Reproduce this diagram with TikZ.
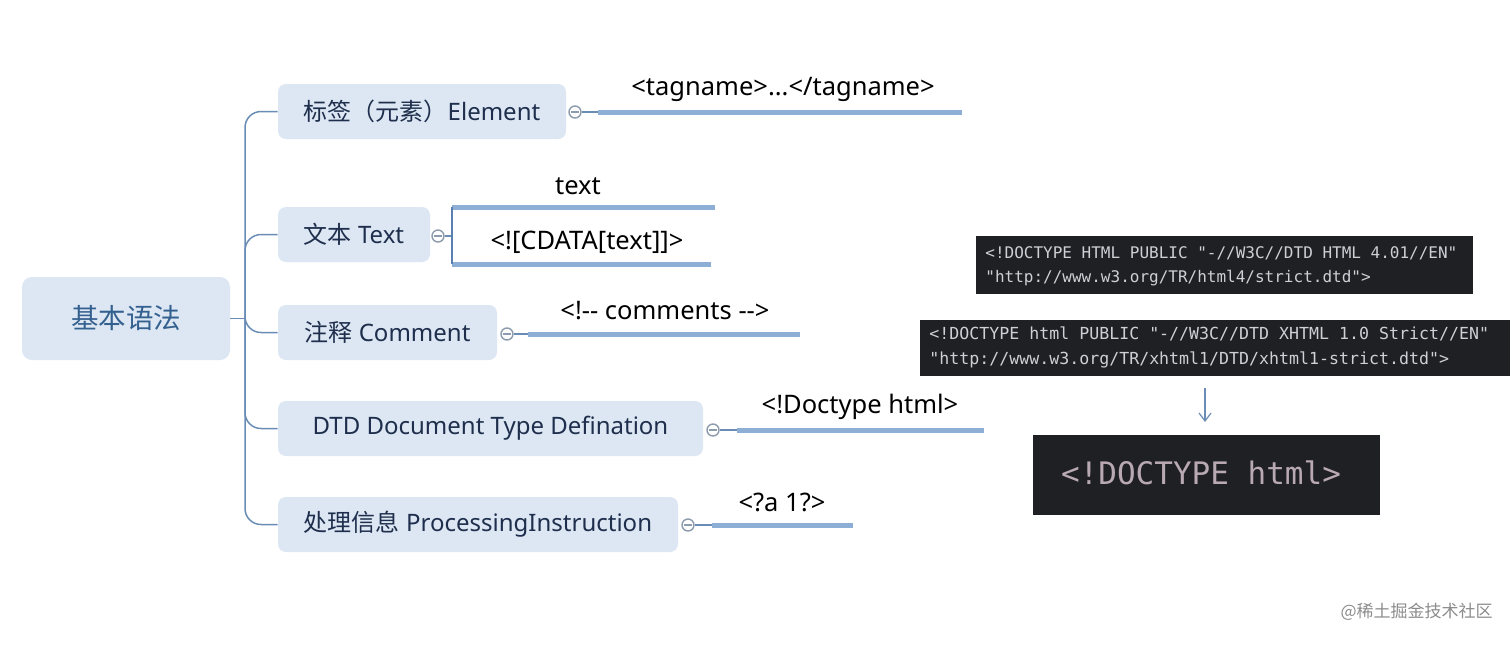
\documentclass[tikz,border=0pt]{standalone}
\usepackage{fontspec}
\setmainfont{Noto Sans}[Ligatures=TeXOff]
\newfontfamily\cjk{Noto Sans CJK SC}[Ligatures=TeXOff]
\newfontfamily\monof{DejaVu Sans Mono}[Ligatures=TeXOff]
\usetikzlibrary{arrows.meta}
\definecolor{boxfill}{HTML}{DCE7F3}
\definecolor{roottext}{HTML}{34608F}
\definecolor{childtext}{HTML}{1E2E4C}
\definecolor{connc}{HTML}{6A8DB6}
\definecolor{thickc}{HTML}{8EAFD5}
\definecolor{brkc}{HTML}{5A80B2}
\definecolor{dotc}{HTML}{8C9BAD}
\definecolor{codebg}{HTML}{1F2023}
\definecolor{codetext}{HTML}{CDD0D4}
\definecolor{bigcode}{HTML}{B9A9B2}
\tikzset{
  x=0.5pt, y=-0.5pt,
  rootbox/.style={fill=boxfill, rounded corners=5pt, minimum width=104pt, minimum height=41.5pt,
    text=roottext, font=\cjk\fontsize{13.75}{16}\selectfont, inner sep=0pt},
  childbox/.style={fill=boxfill, rounded corners=4pt, minimum height=27.5pt,
    text=childtext, font=\fontsize{12}{14}\selectfont, inner sep=0pt},
  conn/.style={draw=connc, line width=0.75pt},
  leafline/.style={draw=thickc, line width=2.5pt},
  brk/.style={draw=brkc, line width=1.3pt},
  dot/.style={circle, draw=dotc, fill=white, line width=0.7pt, minimum size=6pt, inner sep=0pt,
    path picture={\draw[dotc, line width=0.6pt] ([xshift=-1.8pt]path picture bounding box.center) -- ([xshift=1.8pt]path picture bounding box.center);}},
  lbl/.style={text=black, font=\fontsize{12.75}{15}\selectfont, inner sep=0pt},
  codebox/.style={fill=codebg, text=codetext, align=left, inner sep=0pt},
  wm/.style={text=black!45, font=\cjk\fontsize{8.5}{10}\selectfont, inner sep=0pt}
}
\begin{document}
\begin{tikzpicture}
\useasboundingbox (0,0) rectangle (1512,644);
\fill[white] (0,0) rectangle (1512,644);

% root and children
\node[rootbox] (root) at (126,318.5) {基本语法};
\node[childbox, minimum width=144pt] (elem) at (422,111.5) {{\cjk 标签（元素）}Element};
\node[childbox, minimum width=76pt] (txt) at (354,234.5) {{\cjk 文本} Text};
\node[childbox, minimum width=109.5pt] (cmt) at (387.5,332.5) {{\cjk 注释} Comment};
\node[childbox, minimum width=212.5pt] (dtd) at (490.5,428.5) {DTD Document Type Defination};
\node[childbox, minimum width=200pt] (pi) at (478,524.5) {{\cjk 处理信息} ProcessingInstruction};

% tree connectors
\coordinate (trunk) at (245,318.5);
\draw[conn] (root.east) -- (trunk);
\foreach \c in {elem,txt,cmt,dtd,pi}{
  \draw[conn, rounded corners=8pt] (trunk) |- (\c.west);
}

% Element branch
\node[dot] (de) at (575,112) {};
\coordinate (e1) at (598,112);
\coordinate (e2) at (962,112);
\draw[conn] (de) -- (e1);
\draw[leafline] (e1) -- (e2);
\node[lbl] (le) at (783,89) {<tagname>...</tagname>};

% Text branch
\node[dot] (dt) at (438,236) {};
\coordinate (tb) at (452,236);
\coordinate (tt1) at (452,207);
\coordinate (tt2) at (715,207);
\coordinate (tb1) at (452,264);
\coordinate (tb2) at (711,264);
\draw[conn] (dt) -- (tb);
\draw[leafline] (tt1) -- (tt2);
\draw[leafline] (tb1) -- (tb2);
\draw[brk] (tt1) -- (tb1);
\node[lbl] (lt1) at (578,186) {text};
\node[lbl] (lt2) at (587,242) {<![CDATA[text]]>};

% Comment branch
\node[dot] (dc) at (507,334) {};
\coordinate (c1) at (528,334);
\coordinate (c2) at (800,334);
\draw[conn] (dc) -- (c1);
\draw[leafline] (c1) -- (c2);
\node[lbl] (lc) at (665,311) {<!-- comments -->};

% DTD branch
\node[dot] (dd) at (713,430) {};
\coordinate (d1) at (737,430);
\coordinate (d2) at (984,430);
\draw[conn] (dd) -- (d1);
\draw[leafline] (d1) -- (d2);
\node[lbl] (ld) at (860,407) {<!Doctype html>};

% PI branch
\node[dot] (dp) at (688,525) {};
\coordinate (p1) at (712,525);
\coordinate (p2) at (853,525);
\draw[conn] (dp) -- (p1);
\draw[leafline] (p1) -- (p2);
\node[lbl] (lp) at (782,502) {<?a 1?>};

% code screenshots
\node[codebox, minimum width=248.5pt, minimum height=29pt] (code1) at (1224.5,265) {};
\node[codebox, anchor=west, font=\monof\fontsize{8}{12}\selectfont] (code1t) at (985,266)
  {<!DOCTYPE HTML PUBLIC "-//W3C//DTD HTML 4.01//EN"\\"http://www.w3.org/TR/html4/strict.dtd">};
\node[codebox, minimum width=295pt, minimum height=28pt] (code2) at (1215,348) {};
\node[codebox, anchor=west, font=\monof\fontsize{8.3}{12.5}\selectfont] (code2t) at (929,347)
  {<!DOCTYPE html PUBLIC "-//W3C//DTD XHTML 1.0 Strict//EN"\\"http://www.w3.org/TR/xhtml1/DTD/xhtml1-strict.dtd">};
\node[codebox, minimum width=173.5pt, minimum height=40pt] (code3) at (1206.5,475) {};
\node[codebox, text=bigcode, font=\monof\fontsize{15.5}{18}\selectfont] (code3t) at (1201,473) {<!DOCTYPE html>};
\coordinate (a1) at (1205,388);
\coordinate (a2) at (1205,422);
\draw[connc, line width=0.6pt, -{Straight Barb[length=4pt,width=6pt]}] (a1) -- (a2);

% credit
\node[wm, anchor=east] (credit) at (1493,612) {@稀土掘金技术社区};
\end{tikzpicture}
\end{document}
